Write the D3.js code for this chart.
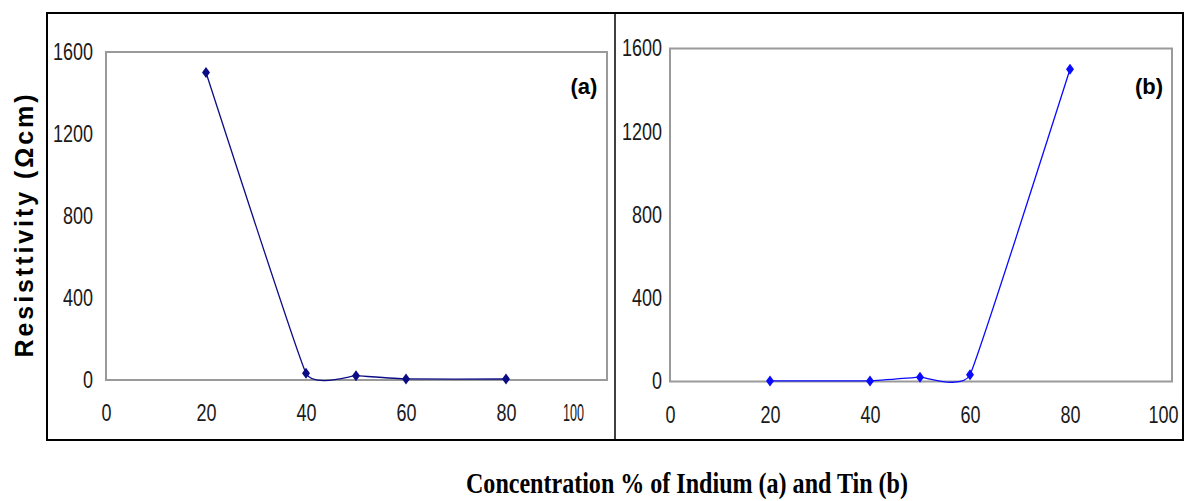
<!DOCTYPE html>
<html>
<head>
<meta charset="utf-8">
<script src="https://cdn.jsdelivr.net/npm/d3@7"></script>
<style>
  body { margin: 0; background: #fff; }
</style>
</head>
<body>
<div class="box"></div>
<script>
// data
const concentration = [20, 40, 50, 60, 80];
const resistivityIndium = [1500, 33, 21, 5, 5];
const resistivityTin = [3, 3, 21, 32, 1500];
const yTicks = [0, 400, 800, 1200, 1600];
const xTicks = [0, 20, 40, 60, 80, 100];

const svg = d3.select('.box')
              .append('svg')
              .attr('width', 1186)
              .attr('height', 501)
              .style('background', '#fff');

// outer frame + divider
svg.append('rect')
   .attr('x', 47).attr('y', 13)
   .attr('width', 1136).attr('height', 427)
   .attr('fill', 'none')
   .attr('stroke', '#000')
   .attr('stroke-width', 2);

svg.append('line')
   .attr('x1', 615).attr('x2', 615)
   .attr('y1', 13).attr('y2', 440)
   .attr('stroke', '#000')
   .attr('stroke-width', 1.5);

const tickFont = "'Liberation Sans Narrow', 'Arial Narrow', 'Liberation Sans', sans-serif";

function drawPanel(p) {
  const x = d3.scaleLinear().domain([0, 100]).range([p.left, p.left + 500]);
  const y = d3.scaleLinear().domain([0, 1600]).range([p.bottom, p.top]);

  // plot frame
  svg.append('rect')
     .attr('x', p.left).attr('y', p.top)
     .attr('width', p.right - p.left)
     .attr('height', p.bottom - p.top)
     .attr('fill', 'none')
     .attr('stroke', '#9a9a9a')
     .attr('stroke-width', 2);

  const axeY = d3.axisLeft(y).tickValues(yTicks).tickFormat(d3.format('d'))
                 .tickSize(0).tickPadding(p.yPad);
  const axeX = d3.axisBottom(x).tickValues(xTicks).tickFormat(d3.format('d'))
                 .tickSize(0).tickPadding(25);

  const gy = svg.append('g')
                .attr('transform', `translate(${p.left}, 0)`)
                .call(axeY);
  const gx = svg.append('g')
                .attr('transform', `translate(0, ${p.bottom})`)
                .call(axeX);

  // tall, narrow digits like the original
  [gx, gy].forEach(g => {
    g.select('.domain').remove();
    g.selectAll('text')
     .attr('fill', '#1a1a1a')
     .attr('textLength', d => String(d).length * 10)
     .attr('lengthAdjust', 'spacingAndGlyphs')
     .style('font-family', tickFont)
     .style('font-size', '23px');
  });

  // last x label: squeezed on (a), pulled in from the edge on (b)
  const last = gx.selectAll('.tick')
                 .filter(d => d === 100)
                 .select('text');
  if (p.squash100) {
    last.attr('x', -33)
        .attr('textLength', 21);
  } else {
    last.attr('x', -7);
  }

  const line = d3.line()
                 .x(d => x(d[0]))
                 .y(d => y(d[1]))
                 .curve(d3.curveCardinal.tension(0.7));

  const pts = concentration.map((c, i) => [c, p.values[i]]);

  svg.append('path')
     .datum(pts)
     .attr('d', line)
     .attr('fill', 'none')
     .attr('stroke', p.color)
     .attr('stroke-width', 1.3);

  svg.selectAll(null)
     .data(pts)
     .enter()
     .append('path')
     .attr('d', 'M0,-5.5L4,0L0,5.5L-4,0Z')
     .attr('transform', d => `translate(${x(d[0])}, ${y(d[1])})`)
     .attr('fill', p.color);

  svg.append('text')
     .attr('x', p.tagX).attr('y', 94)
     .attr('text-anchor', 'middle')
     .style('font-family', "'Liberation Sans', Arial, sans-serif")
     .style('font-weight', 'bold')
     .style('font-size', '22px')
     .text(p.tag);
}

drawPanel({left: 106, right: 607, top: 52, bottom: 380, yPad: 13,
           values: resistivityIndium, color: '#0c0c85', tag: '(a)', tagX: 584, squash100: true});
drawPanel({left: 670, right: 1172, top: 48.5, bottom: 381.5, yPad: 8,
           values: resistivityTin, color: '#0a0aff', tag: '(b)', tagX: 1149, squash100: false});

// axis titles
svg.append('text')
   .attr('transform', 'translate(33, 226) rotate(-90)')
   .attr('text-anchor', 'middle')
   .attr('textLength', 263)
   .attr('lengthAdjust', 'spacing')
   .style('font-family', "'Liberation Sans', Arial, sans-serif")
   .style('font-weight', 'bold')
   .style('font-size', '25px')
   .text('Resisttivity  (\u03A9cm)');

svg.append('text')
   .attr('x', 466).attr('y', 493)
   .attr('textLength', 442)
   .attr('lengthAdjust', 'spacingAndGlyphs')
   .style('font-family', "'Liberation Serif', 'Times New Roman', serif")
   .style('font-weight', 'bold')
   .style('font-size', '30px')
   .text('Concentration % of Indium (a) and Tin (b)');
</script>
</body>
</html>
